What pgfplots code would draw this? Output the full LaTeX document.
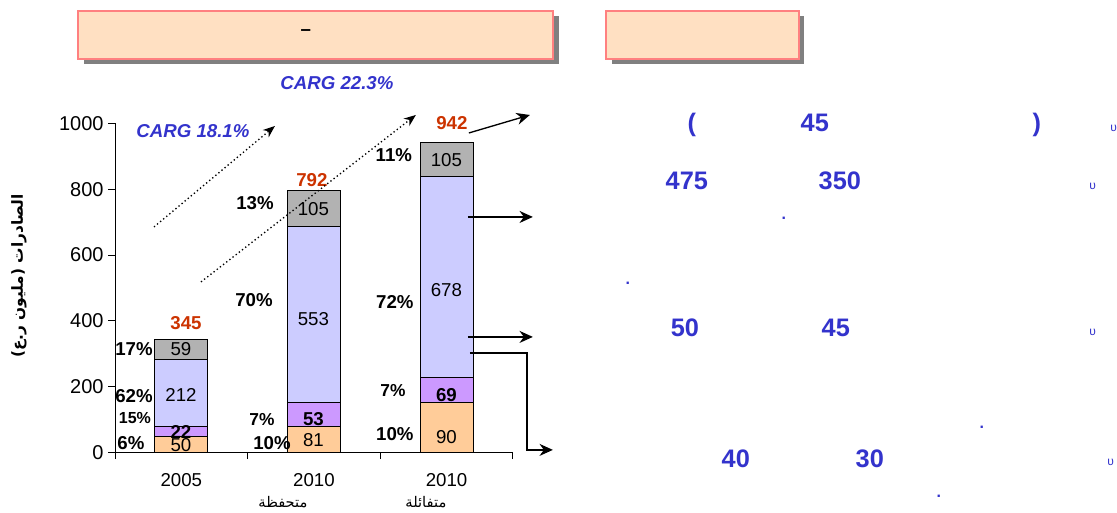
\documentclass[border=0pt]{standalone}
\usepackage{fontspec}
\setmainfont{Liberation Sans}
\newfontfamily\arabicfont[Script=Arabic]{DejaVu Sans}
\usepackage{pgfplots}
\pgfplotsset{compat=1.18}
\usetikzlibrary{arrows.meta}
\TeXXeTstate=1

\definecolor{segpeach}{HTML}{FFCC99}
\definecolor{seglilac}{HTML}{CC99FF}
\definecolor{seglav}{HTML}{CCCCFF}
\definecolor{seggray}{HTML}{B2B2B2}
\definecolor{totred}{HTML}{CC3300}
\definecolor{cargblue}{HTML}{3333CC}
\definecolor{boxfill}{HTML}{FFE0C2}
\definecolor{boxline}{HTML}{FF8080}
\definecolor{boxshadow}{HTML}{808080}

\newcommand\setfs[1]{\fontsize{#1}{#1}\selectfont}

\tikzset{
  val/.style={font=\setfs{14}, inner sep=0pt},
  valb/.style={font=\bfseries\setfs{14}, inner sep=0pt},
  tot/.style={font=\bfseries\setfs{14}, text=totred, inner sep=0pt},
  note/.style={font=\bfseries\setfs{19}, text=cargblue, inner sep=0pt},
}

\begin{document}
\begin{tikzpicture}
% pixel grid: 1 px = 0.75pt, y downwards
\begin{scope}[x=0.75pt,y=-0.75pt]
  \path[use as bounding box, fill=white] (0,0) rectangle (1117,510);
  % title boxes
  \fill[boxshadow] (84,16) rectangle (559,64);
  \filldraw[fill=boxfill, draw=boxline, line width=1.5pt] (78,11) rectangle (553,59);
  \node[font=\bfseries\setfs{14}] at (306,33) {–};
  \fill[boxshadow] (612,16) rectangle (804,64);
  \filldraw[fill=boxfill, draw=boxline, line width=1.5pt] (606,11) rectangle (799,59);
\end{scope}

% segment heights as drawn in the chart
\begin{axis}[
    at={(86.25pt,-339.375pt)}, anchor=south west,
    scale only axis, width=298.5pt, height=246.75pt,
    xmin=0, xmax=3, ymin=0, ymax=1000,
    axis x line=bottom, axis y line=left,
    axis line style={-, black, line width=0.7pt},
    tick align=outside, major tick length=5pt,
    tick style={black, line width=0.7pt},
    xtick={0,1,2,3}, xticklabels={},
    extra x ticks={0.5,1.5,2.5},
    extra x tick labels={2005,2010,2010},
    extra x tick style={major tick length=0pt},
    xticklabel style={yshift=-12pt},
    ytick={0,200,400,600,800,1000},
    ticklabel style={font=\setfs{14}},
    yticklabel style={font=\setfs{15}},
    /pgf/number format/assume math mode=true,
    /pgf/number format/1000 sep={},
    ybar stacked, bar width=39.75pt,
    clip=false,
  ]
  \addplot[fill=segpeach, draw=black, line width=0.7pt] coordinates {(0.5,47)  (1.5,80)  (2.5,151)};
  \addplot[fill=seglilac, draw=black, line width=0.7pt] coordinates {(0.5,33)  (1.5,71)  (2.5,76)};
  \addplot[fill=seglav,   draw=black, line width=0.7pt] coordinates {(0.5,203) (1.5,535) (2.5,611)};
  \addplot[fill=seggray,  draw=black, line width=0.7pt] coordinates {(0.5,59)  (1.5,109) (2.5,104)};
\end{axis}

\begin{scope}[x=0.75pt,y=-0.75pt]
  % segment values
  \node[val]  at (181,445)   {50};
  \node[valb] at (181,432)   {22};
  \node[val]  at (181,395)   {212};
  \node[val]  at (181,349)   {59};
  \node[val]  at (313.5,440) {81};
  \node[valb] at (313.5,419) {53};
  \node[val]  at (313.5,319) {553};
  \node[val]  at (313.5,209) {105};
  \node[val]  at (446.5,437) {90};
  \node[valb] at (446.5,395) {69};
  \node[val]  at (446.5,290) {678};
  \node[val]  at (446.5,160) {105};
  % totals
  \node[tot] at (186,323) {345};
  \node[tot] at (312,180) {792};
  \node[tot] at (452,123) {942};

  % y label
  \node[rotate=90, font=\arabicfont\bfseries\setfs{11.5}] at (19,276) {\beginR الصادرات (مليون ر.ع)\endR};
  % scenario names
  \node[font=\arabicfont\setfs{11}] at (283,502) {\beginR متحفظة\endR};
  \node[font=\arabicfont\setfs{11}] at (426,502) {\beginR متفائلة\endR};

  % shares
  \node[valb] at (134,349) {17\%};
  \node[valb] at (134,396) {62\%};
  \node[valb, font=\bfseries\setfs{12}] at (135,418) {15\%};
  \node[valb] at (131,443) {6\%};
  \node[valb] at (255,203) {13\%};
  \node[valb] at (254,300) {70\%};
  \node[valb, font=\bfseries\setfs{13}] at (262,420) {7\%};
  \node[valb] at (272,443) {10\%};
  \node[valb] at (394,155) {11\%};
  \node[valb] at (395,302) {72\%};
  \node[valb, font=\bfseries\setfs{13}] at (393,391) {7\%};
  \node[valb] at (395,434) {10\%};

  % growth
  \node[font=\bfseries\itshape\setfs{14}, text=cargblue] at (193,131) {CARG 18.1\%};
  \node[font=\bfseries\itshape\setfs{14}, text=cargblue] at (337,83) {CARG 22.3\%};
  \draw[line width=1pt, dash pattern=on 1pt off 2pt, -{Stealth[length=9pt,width=7pt]}] (154,227) -- (275,126);
  \draw[line width=1pt, dash pattern=on 1pt off 2pt, -{Stealth[length=9pt,width=7pt]}] (201,282) -- (416,115);

  % pointers
  \draw[line width=1pt, -{Stealth[length=10pt,width=9pt]}] (469,133) -- (530,115);
  \draw[line width=1pt, -{Stealth[length=10pt,width=9pt]}] (468,217) -- (533,217);
  \draw[line width=1pt, -{Stealth[length=10pt,width=9pt]}] (468,337) -- (533,337);
  \draw[line width=1pt, -{Stealth[length=10pt,width=9pt]}] (470,353) -- (527,353) -- (527,450) -- (553,450);

  % right-hand notes
  \node[note] at (692,125) {(};
  \node[note] at (815,123) {45};
  \node[note] at (1037,125) {)};
  \node[note] at (687,181) {475};
  \node[note] at (840,181) {350};
  \node[note] at (685,328) {50};
  \node[note] at (836,328) {45};
  \node[note] at (736,459) {40};
  \node[note] at (870,459) {30};
  \node[font=\bfseries\setfs{12}, text=cargblue, inner sep=0pt, anchor=base] at (784,220) {.};
  \node[font=\bfseries\setfs{12}, text=cargblue, inner sep=0pt, anchor=base] at (628,285) {.};
  \node[font=\bfseries\setfs{12}, text=cargblue, inner sep=0pt, anchor=base] at (982,429) {.};
  \node[font=\bfseries\setfs{12}, text=cargblue, inner sep=0pt, anchor=base] at (939,498) {.};
  \node[font=\setfs{9}, text=cargblue, inner sep=0pt] at (1114,128) {υ};
  \node[font=\setfs{9}, text=cargblue, inner sep=0pt] at (1093,186) {υ};
  \node[font=\setfs{9}, text=cargblue, inner sep=0pt] at (1093,332) {υ};
  \node[font=\setfs{9}, text=cargblue, inner sep=0pt] at (1111,463) {υ};
\end{scope}
\end{tikzpicture}
\end{document}
